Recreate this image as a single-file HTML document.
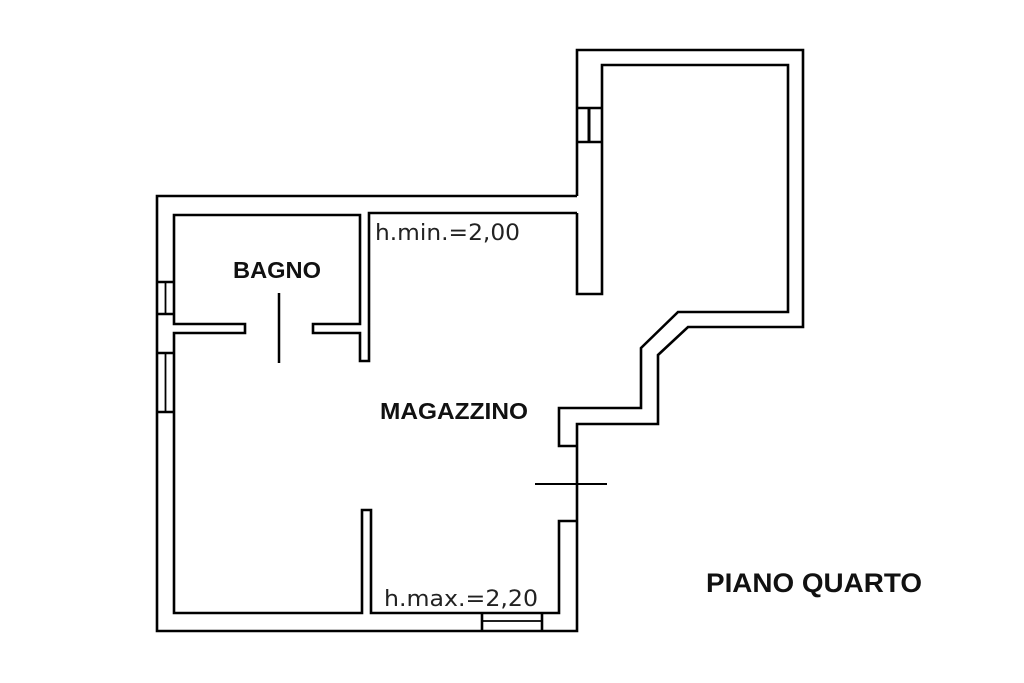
<!DOCTYPE html>
<html><head><meta charset="utf-8"><style>
html,body{margin:0;padding:0;background:#fff;}
svg{display:block;}
.b{font-family:"Liberation Sans",sans-serif;font-weight:bold;fill:#111;}
.t{font-family:"DejaVu Sans","Liberation Sans",sans-serif;fill:#222;}
</style></head><body>
<svg width="1024" height="683" viewBox="0 0 1024 683" xmlns="http://www.w3.org/2000/svg">
<g fill="none" stroke="#000" stroke-width="2.6" stroke-linejoin="miter">
<polyline points="577,196 157,196 157,631 577,631 577,424 658,424 658,355 688,327 803,327 803,50 577,50 577,196"/>
<polyline points="577,213 577,294 602,294 602,65 788,65 788,312 678,312 641,348 641,408 559,408 559,446 577,446"/>
<line x1="577" y1="108" x2="602" y2="108"/>
<line x1="577" y1="142" x2="602" y2="142"/>
<line x1="589" y1="108" x2="589" y2="142" stroke-width="3"/>
<polyline points="577,213 369,213 369,361 360,361 360,333 313,333 313,324 360,324 360,215 174,215 174,324 245,324 245,333 174,333 174,613 362,613 362,510 371,510 371,613 559,613 559,521 577,521"/>
<line x1="279" y1="293" x2="279" y2="363" stroke-width="2.5"/>
<line x1="535" y1="484" x2="607" y2="484" stroke-width="2"/>
<line x1="157" y1="282" x2="174" y2="282"/>
<line x1="157" y1="314" x2="174" y2="314"/>
<line x1="165.5" y1="282" x2="165.5" y2="314" stroke-width="1.8"/>
<line x1="157" y1="353" x2="174" y2="353"/>
<line x1="157" y1="412" x2="174" y2="412"/>
<line x1="165.5" y1="353" x2="165.5" y2="412" stroke-width="1.8"/>
<line x1="482" y1="613" x2="482" y2="631"/>
<line x1="542" y1="613" x2="542" y2="631"/>
<line x1="482" y1="621" x2="542" y2="621" stroke-width="1.8"/>
</g>
<text class="b" x="233" y="278" font-size="23" textLength="88" lengthAdjust="spacingAndGlyphs">BAGNO</text>
<text class="b" x="380" y="419" font-size="23" textLength="148" lengthAdjust="spacingAndGlyphs">MAGAZZINO</text>
<text class="b" x="706" y="592" font-size="27" textLength="216" lengthAdjust="spacingAndGlyphs">PIANO QUARTO</text>
<text class="t" x="375" y="240" font-size="22" textLength="145" lengthAdjust="spacingAndGlyphs">h.min.=2,00</text>
<text class="t" x="384" y="606" font-size="22" textLength="154" lengthAdjust="spacingAndGlyphs">h.max.=2,20</text>
</svg>
</body></html>
